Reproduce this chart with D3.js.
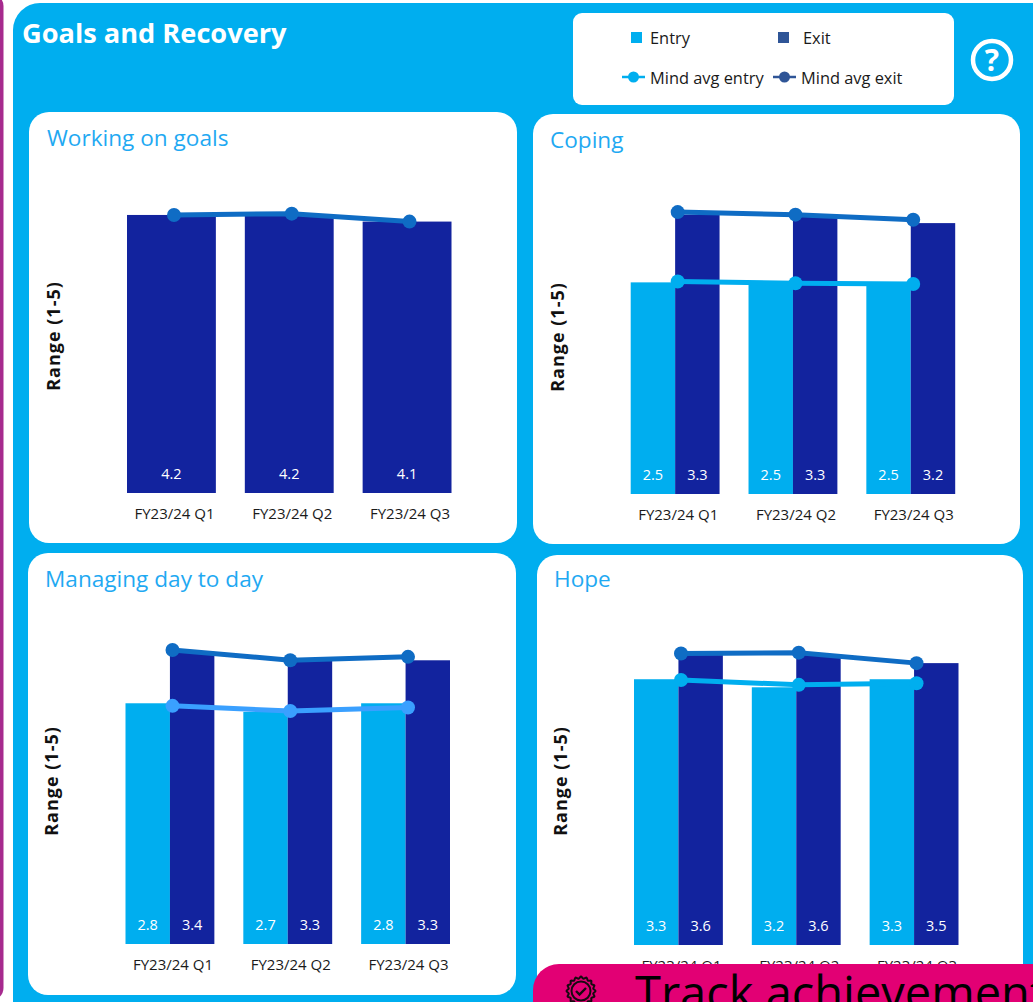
<!DOCTYPE html>
<html>
<head>
<meta charset="utf-8">
<script src="https://cdn.jsdelivr.net/npm/d3@7"></script>
<style>
  html, body { margin: 0; padding: 0; background: #fff; overflow: hidden; }
  svg { display: block; font-family: "Open Sans", "Noto Sans", sans-serif; }
</style>
</head>
<body>
<svg id="dash" width="1033" height="1002"></svg>
<script>
const quarters = ["FY23/24 Q1", "FY23/24 Q2", "FY23/24 Q3"];

const goalsExit = [4.2, 4.2, 4.1];
const goalsAvgExit = [4.2, 4.22, 4.1];

const copingEntry = [2.5, 2.5, 2.5];
const copingExit = [3.3, 3.3, 3.2];
const copingAvgEntry = [2.51, 2.49, 2.48];
const copingAvgExit = [3.33, 3.3, 3.24];

const dayEntry = [2.8, 2.7, 2.8];
const dayExit = [3.4, 3.3, 3.3];
const dayAvgEntry = [2.77, 2.71, 2.75];
const dayAvgExit = [3.42, 3.3, 3.34];

const hopeEntry = [3.3, 3.2, 3.3];
const hopeExit = [3.6, 3.6, 3.5];
const hopeAvgEntry = [3.29, 3.23, 3.25];
const hopeAvgExit = [3.62, 3.63, 3.5];

const colors = {
  panel: "#00AEEF", side: "#A62A8E", banner: "#E20074",
  entry: "#00AEEF", exit: "#12239E",
  avgEntry: "#00AEEF", avgEntryAlt: "#3AA0FF", avgExit: "#0F6CC4",
  legendExit: "#2F5597", ink: "#1a1a1a"
};

const svg = d3.select("#dash");

// Page furniture: side strip and the main blue panel
svg.append("rect").attr("x", -30).attr("y", -6).attr("width", 33.5).attr("height", 1006).attr("rx", 12).attr("fill", colors.side);
svg.append("rect").attr("x", 13).attr("y", 3).attr("width", 1045).attr("height", 1030).attr("rx", 27).attr("fill", colors.panel);
svg.append("text").attr("x", 22).attr("y", 43).attr("fill", "#fff").attr("font-size", 27.2).attr("font-weight", 700).text("Goals and Recovery");

// Legend box
const legend = svg.append("g");
legend.append("rect").attr("x", 573).attr("y", 13).attr("width", 381).attr("height", 92).attr("rx", 9).attr("fill", "#fff");
legend.append("rect").attr("x", 631).attr("y", 32).attr("width", 11).attr("height", 11).attr("fill", colors.entry);
legend.append("rect").attr("x", 778).attr("y", 32).attr("width", 11).attr("height", 11).attr("fill", colors.legendExit);
const legendText = [["Entry", 650, 44], ["Exit", 803, 44], ["Mind avg entry", 650, 84], ["Mind avg exit", 801, 84]];
legend.selectAll("text").data(legendText).join("text")
  .attr("x", d => d[1]).attr("y", d => d[2]).attr("font-size", 16.4).attr("fill", colors.ink).text(d => d[0]);
[[622, 645, colors.avgEntry], [773, 796, colors.legendExit]].forEach(([a, b, c]) => {
  legend.append("line").attr("x1", a).attr("x2", b).attr("y1", 77).attr("y2", 77).attr("stroke", c).attr("stroke-width", 2.5);
  legend.append("circle").attr("cx", (a + b) / 2).attr("cy", 77).attr("r", 5.5).attr("fill", c);
});

// Help button
svg.append("circle").attr("cx", 992).attr("cy", 60).attr("r", 19).attr("fill", "none").attr("stroke", "#fff").attr("stroke-width", 4.5);
svg.append("text").attr("x", 992).attr("y", 71).attr("text-anchor", "middle").attr("fill", "#fff").attr("font-size", 30).attr("font-weight", 700).text("?");

const panels = [
  { title: "Working on goals", card: [29, 112, 488, 431], plotX: 127, base: 493, yMax: 5, titleX: 47, titleY: 146, axisX: 60, axisY: 336,
    entry: null, exit: goalsExit, avgEntry: null, avgExit: goalsAvgExit, entryLine: colors.avgEntry },
  { title: "Coping", card: [533, 114, 487, 430], plotX: 630.7, base: 494, yMax: 3.91, titleX: 550, titleY: 148, axisX: 564, axisY: 337,
    entry: copingEntry, exit: copingExit, avgEntry: copingAvgEntry, avgExit: copingAvgExit, entryLine: colors.avgEntry },
  { title: "Managing day to day", card: [28, 553, 488, 442], plotX: 125.5, base: 944, yMax: 3.85, titleX: 45, titleY: 587, axisX: 58, axisY: 781,
    entry: dayEntry, exit: dayExit, avgEntry: dayAvgEntry, avgExit: dayAvgExit, entryLine: colors.avgEntryAlt },
  { title: "Hope", card: [537, 555, 486, 440], plotX: 634, base: 945, yMax: 4.11, titleX: 554, titleY: 587, axisX: 567, axisY: 781,
    entry: hopeEntry, exit: hopeExit, avgEntry: hopeAvgEntry, avgExit: hopeAvgExit, entryLine: colors.avgEntry }
];

const plotHeight = 331, plotWidth = 324.5;

panels.forEach(p => {
  const g = svg.append("g");
  const [cx, cy, cw, ch] = p.card;
  g.append("rect").attr("x", cx).attr("y", cy).attr("width", cw).attr("height", ch).attr("rx", 20).attr("fill", "#fff");
  g.append("text").attr("x", p.titleX).attr("y", p.titleY).attr("font-size", 22.6).attr("fill", "#1FA9F2").text(p.title);

  const x = d3.scaleBand().domain(quarters).range([p.plotX, p.plotX + plotWidth]).paddingInner(29 / 118).paddingOuter(0);
  const y = d3.scaleLinear().domain([0, p.yMax]).range([p.base, p.base - plotHeight]);
  const keys = p.entry ? ["entry", "exit"] : ["exit"];
  const inner = d3.scaleBand().domain(keys).range([0, x.bandwidth()]);
  // Lines and category labels sit a touch right of the group centres
  const lx = d3.scalePoint().domain(quarters).range([p.plotX + 47, p.plotX + 47 + 235.5]);

  keys.forEach(k => {
    const bars = g.append("g");
    bars.selectAll("rect").data(p[k]).join("rect")
      .attr("x", (d, i) => x(quarters[i]) + inner(k))
      .attr("y", d => y(d))
      .attr("width", inner.bandwidth())
      .attr("height", d => p.base - y(d))
      .attr("fill", colors[k]);
    bars.selectAll("text").data(p[k]).join("text")
      .attr("x", (d, i) => x(quarters[i]) + inner(k) + inner.bandwidth() / 2)
      .attr("y", p.base - 14)
      .attr("text-anchor", "middle").attr("font-size", 14.5).attr("fill", "#fff")
      .text(d => d.toFixed(1));
  });

  // Category axis, labels only
  const axis = g.append("g").attr("transform", `translate(0,${p.base})`)
    .call(d3.axisBottom(lx).tickSize(0).tickPadding(10.5))
    .attr("font-family", null);
  axis.select(".domain").remove();
  axis.selectAll("text").attr("font-size", 15).attr("dy", "1em").attr("fill", colors.ink);

  g.append("text")
    .attr("transform", `translate(${p.axisX},${p.axisY}) rotate(-90)`)
    .attr("text-anchor", "middle").attr("font-size", 18).attr("letter-spacing", 1).attr("font-weight", 700).attr("fill", "#111")
    .text("Range (1-5)");

  const line = d3.line().x((d, i) => lx(quarters[i])).y(d => y(d));
  [[p.avgEntry, p.entryLine], [p.avgExit, colors.avgExit]].forEach(([vals, c]) => {
    if (!vals) return;
    g.append("path").attr("d", line(vals)).attr("fill", "none").attr("stroke", c).attr("stroke-width", 5);
    g.selectAll(null).data(vals).join("circle")
      .attr("cx", (d, i) => lx(quarters[i])).attr("cy", d => y(d)).attr("r", 7).attr("fill", c);
  });
});

// Banner that overlaps the lower right card
const banner = svg.append("g");
banner.append("rect").attr("x", 533).attr("y", 964).attr("width", 560).attr("height", 90).attr("rx", 26).attr("fill", colors.banner);
const badge = banner.append("g").attr("transform", "translate(581,991)");
const scallop = d3.lineRadial().curve(d3.curveCardinalClosed).angle(d => d.a).radius(d => d.r);
badge.append("path")
  .attr("d", scallop(d3.range(32).map(i => ({ a: i / 32 * 2 * Math.PI, r: i % 2 ? 12.5 : 14.5 }))))
  .attr("fill", "none").attr("stroke", "#160a10").attr("stroke-width", 2);
badge.append("circle").attr("r", 9.5).attr("fill", "none").attr("stroke", "#160a10").attr("stroke-width", 2);
badge.append("path").attr("d", "M-5,0 L-1.5,3.5 L5,-3").attr("fill", "none").attr("stroke", "#160a10").attr("stroke-width", 2.4);
banner.append("text").attr("x", 635).attr("y", 1010).attr("font-size", 47).attr("fill", "#000").text("Track achievement");
</script>
</body>
</html>
